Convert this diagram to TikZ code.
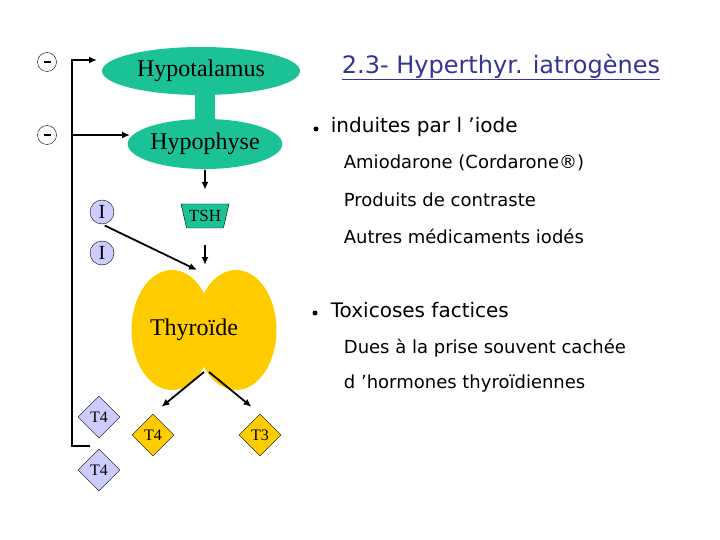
\documentclass[tikz,border=0pt]{standalone}
\usepackage{fontspec}
\setmainfont{Liberation Serif}
\newfontfamily\comicfont{DejaVu Sans}
\usepackage{tikz}
\usetikzlibrary{arrows.meta,shapes.geometric}

\definecolor{vert}{RGB}{26,194,150}
\definecolor{jaune}{RGB}{255,204,0}
\definecolor{lavande}{RGB}{204,204,255}
\definecolor{bleutitre}{RGB}{51,51,153}

\begin{document}
\begin{tikzpicture}[x=1pt,y=-1pt,>={Latex[length=8pt,width=7pt]},line width=1.8pt,
organ/.style={ellipse,fill=vert,inner sep=0pt,font=\fontsize{24}{26}\selectfont},
lobe/.style={ellipse,fill=jaune,inner sep=0pt,minimum width=81pt,minimum height=120pt},
iode/.style={circle,draw,thin,fill=lavande,inner sep=0pt,minimum size=24pt,font=\fontsize{20}{22}\selectfont},
horm/.style={diamond,draw,thin,inner sep=0pt,minimum size=42pt,font=\fontsize{16}{18}\selectfont},
minus/.style={circle,draw,thin,fill=white,inner sep=0pt,minimum size=19pt},
bul/.style={circle,fill,inner sep=0pt,minimum size=5pt},
item/.style={anchor=west,inner sep=0pt,font=\comicfont\fontsize{20}{24}\selectfont},
sub/.style={anchor=west,inner sep=0pt,font=\comicfont\fontsize{18}{22}\selectfont}]
\useasboundingbox (0,0) rectangle (720,540);
% axe hypothalamo-hypophysaire
\node[organ,minimum width=198pt,minimum height=48pt] (hypot) at (201,71) {Hypotalamus};
\node[organ,minimum width=127pt,minimum height=50pt] (hypo) at (205,144) {Hypophyse};
\fill[vert] (hypo.north |- hypot.south) ++(-10,-3) rectangle ++(20,30);
\node[trapezium,trapezium stretches=true,shape border rotate=180,fill=vert,draw,thin,
  minimum width=48pt,minimum height=24pt,trapezium left angle=67,trapezium right angle=67,
  inner sep=0pt,font=\fontsize{17}{18}\selectfont] (tsh) at (205,216) {TSH};
\draw[->,shorten >=14pt] (hypo.south) -- (tsh.north);
\coordinate (thyIn) at (205,265);
\draw[->,shorten <=17pt] (tsh.south) -- (thyIn);
% iode
\node[iode] (iodA) at (102,212) {I};
\node[iode] (iodB) at (102,253) {I};
\coordinate (iodIn) at (197,270);
\draw[->,shorten <=3pt] (iodA.south) -- (iodIn);
% thyroide
\node[lobe] (lobeL) at (172,330) {};
\node[lobe] (lobeR) at (236,330) {};
\node[font=\fontsize{24}{26}\selectfont,inner sep=0pt] (thy) at (194,330) {Thyroïde};
\coordinate (thyOutL) at (204,372);
\coordinate (thyOutR) at (209,372);
\node[horm,fill=jaune] (t4o) at (153,435) {T4};
\node[horm,fill=jaune] (t3o) at (260,435) {T3};
\node[horm,fill=lavande] (t4a) at (99,417) {T4};
\node[horm,fill=lavande] (t4b) at (99,470) {T4};
\draw[->,shorten >=11pt] (thyOutL) -- (t4o.north);
\draw[->,shorten >=11pt] (thyOutR) -- (t3o.north);
% retrocontrole
\node[minus] (mA) at (47,62) {\rule[-1.1pt]{7pt}{2.2pt}};
\node[minus] (mB) at (47,135) {\rule[-1.1pt]{7pt}{2.2pt}};
\coordinate (fbEnd) at (90,446);
\coordinate (fbTop) at (72,60);
\coordinate (hypotIn) at (97,60);
\coordinate (fbMid) at (72,135);
\coordinate (hypoIn) at (130,135);
\draw[->] (fbEnd) -| (fbTop) -- (hypotIn);
\draw[->] (fbMid) -- (hypoIn);
% texte
\node[font=\comicfont\fontsize{24}{26}\selectfont,text=bleutitre] (title) at (501,67) {\underline{2.3- Hyperthyr. iatrogènes}};
\node[bul] (b1) at (316,129) {};
\node[item] (it1) at (330,127) {induites par l ’iode};
\node[sub] (s1) at (343,163) {Amiodarone (Cordarone®)};
\node[sub] (s2) at (343,200) {Produits de contraste};
\node[sub] (s3) at (343,236) {Autres médicaments iodés};
\node[bul] (b2) at (315,313) {};
\node[item] (it2) at (330,310) {Toxicoses factices};
\node[sub] (s4) at (343,348) {Dues à la prise souvent cachée};
\node[sub] (s5) at (343,384) {d ’hormones thyroïdiennes};
\end{tikzpicture}
\end{document}
